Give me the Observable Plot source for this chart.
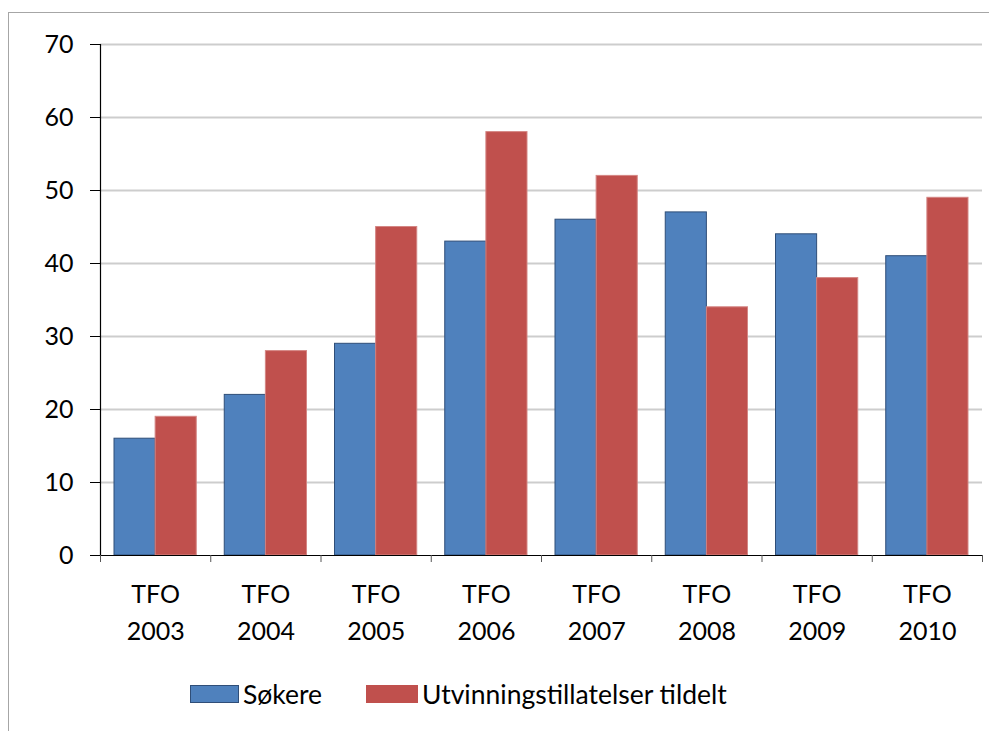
<!DOCTYPE html>
<html>
<head>
<meta charset="utf-8">
<script src="https://cdn.jsdelivr.net/npm/d3@7"></script>
<script src="https://cdn.jsdelivr.net/npm/@observablehq/plot@0.6"></script>
<style>
  body { margin: 0; background: #fff; font-family: Lato, "Open Sans", sans-serif; }
  #wrap { position: relative; width: 989px; height: 731px; overflow: hidden; }
  #frame { position: absolute; left: 8px; top: 12px; right: -2px; bottom: -2px;
           border-left: 1.5px solid #a6a6a6; border-top: 1.5px solid #a6a6a6; }
  #chart { position: absolute; left: 0; top: 0; }
  .item { position: absolute; top: 678px; display: flex; align-items: center; font-size: 26.5px; color: #000; white-space: nowrap; }
  .sw { display: inline-block; width: 49px; height: 18px; margin-right: 4px; box-sizing: border-box; }
</style>
</head>
<body>
<div id="wrap">
  <div id="frame"></div>
  <div id="chart"></div>
</div>
<script>
const categories = ["TFO\n2003","TFO\n2004","TFO\n2005","TFO\n2006","TFO\n2007","TFO\n2008","TFO\n2009","TFO\n2010"];
const seriesNames = ["Søkere", "Utvinningstillatelser tildelt"];
const sokere = [16, 22, 29, 43, 46, 47, 44, 41];
const tildelt = [19, 28, 45, 58, 52, 34, 38, 49];
const yTicks = [0, 10, 20, 30, 40, 50, 60, 70];
const colors = ["#4f81bd", "#c0504d"];
const strokes = ["#2f4e78", "#d48684"];

const pad = 0.127; // outer gap inside each category slot
const rows = [];
categories.forEach((c, i) => {
  rows.push({i, series: seriesNames[0], value: sokere[i], x1: i + pad, x2: i + 0.5});
  rows.push({i, series: seriesNames[1], value: tildelt[i], x1: i + 0.5, x2: i + 1 - pad});
});

const chart = Plot.plot({
  width: 989,
  height: 660,
  marginLeft: 100,
  marginRight: 7,
  marginTop: 44,
  marginBottom: 105,
  style: {fontFamily: "Lato, 'Open Sans', sans-serif", fontSize: "25px", color: "#000", background: "transparent"},
  x: {type: "linear", domain: [0, categories.length], axis: null},
  y: {domain: [0, 70], axis: null},
  color: {domain: seriesNames, range: colors},
  marks: [
    Plot.ruleY(yTicks.filter(d => d > 0), {x1: 0, x2: categories.length, stroke: "#cdcdcd", strokeWidth: 2}),
    Plot.rectY(rows, {x1: "x1", x2: "x2", y1: 0, y2: "value", fill: "series",
      stroke: d => d.series === seriesNames[0] ? strokes[0] : strokes[1], strokeWidth: 1}),
    Plot.axisY({ticks: yTicks, tickSize: 10, tickPadding: 17, fontSize: 25, label: null, stroke: "#000"}),
    Plot.ruleX([0], {stroke: "#000", strokeWidth: 1.2}),
    Plot.ruleY([0], {x1: 0, x2: categories.length, stroke: "#000", strokeWidth: 1.2}),
    Plot.axisX({ticks: d3.range(categories.length + 1), tickSize: 7, tickFormat: () => "", label: null, stroke: "#555"}),
    Plot.axisX({ticks: d3.range(categories.length).map(i => i + 0.5), tickSize: 0, tickPadding: 21,
      tickFormat: d => categories[Math.floor(d)], fontSize: 25, lineHeight: 1.48, label: null})
  ]
});
document.getElementById("chart").appendChild(chart);

const wrap = document.getElementById("wrap");
const legendLeft = [190, 366];
seriesNames.forEach((name, k) => {
  const item = document.createElement("div");
  item.className = "item";
  item.style.left = legendLeft[k] + "px";
  const sw = document.createElement("span");
  sw.className = "sw";
  sw.style.background = colors[k];
  sw.style.width = (k === 0 ? 49 : 52) + "px";
  sw.style.border = k === 0 ? "1px solid " + strokes[0] : "none";
  item.appendChild(sw);
  item.appendChild(document.createTextNode(name));
  wrap.appendChild(item);
});
</script>
</body>
</html>
